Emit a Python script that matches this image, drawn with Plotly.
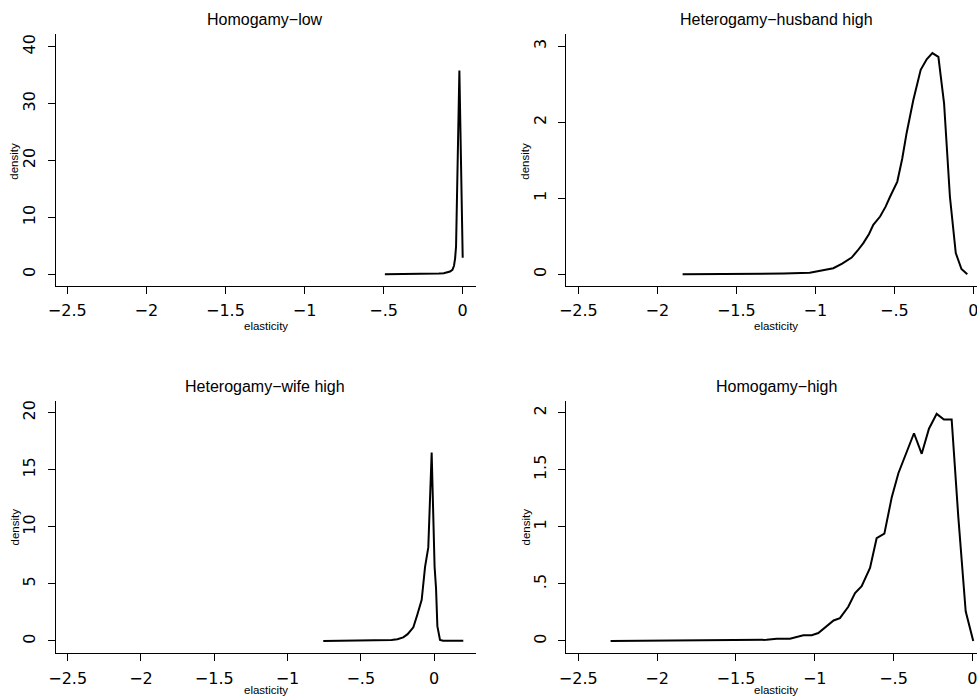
import plotly.graph_objects as go

# ---- data ----
titles = ["Homogamy\u2212low", "Heterogamy\u2212husband high",
          "Heterogamy\u2212wife high", "Homogamy\u2212high"]

x_hl = [-0.492, -0.40, -0.30, -0.20, -0.15, -0.12, -0.10, -0.08, -0.065, -0.055,
        -0.048, -0.042, -0.021, 0.0]
y_hl = [0.0, 0.01, 0.02, 0.06, 0.12, 0.2, 0.3, 0.5, 0.8, 1.5, 2.8, 4.9, 35.8, 2.9]

x_hh = [-1.84, -1.5, -1.2, -1.035, -0.95, -0.886, -0.83, -0.77, -0.733, -0.696, -0.66,
        -0.633, -0.59, -0.555, -0.527, -0.481, -0.45, -0.422, -0.38, -0.333, -0.295,
        -0.259, -0.221, -0.185, -0.148, -0.111, -0.075, -0.038]
y_hh = [0.0, 0.003, 0.01, 0.02, 0.05, 0.08, 0.14, 0.22, 0.31, 0.41, 0.53, 0.65, 0.76,
        0.89, 1.02, 1.22, 1.52, 1.86, 2.29, 2.69, 2.83, 2.91, 2.86, 2.25, 1.02, 0.28,
        0.07, 0.0]

x_wh = [-0.756, -0.5, -0.35, -0.29, -0.25, -0.21, -0.18, -0.141, -0.114, -0.084,
        -0.061, -0.039, -0.016, 0.004, 0.014, 0.023, 0.041, 0.062, 0.2]
y_wh = [0.0, 0.01, 0.04, 0.08, 0.15, 0.32, 0.6, 1.2, 2.3, 3.6, 6.5, 8.2, 16.5, 6.5,
        4.6, 1.3, 0.1, 0.02, 0.02]

x_ho = [-2.295, -2.0, -1.7, -1.5, -1.305, -1.241, -1.157, -1.072, -1.019, -0.977,
        -0.935, -0.88, -0.84, -0.787, -0.744, -0.702, -0.649, -0.607, -0.558, -0.511,
        -0.469, -0.416, -0.37, -0.321, -0.275, -0.226, -0.18, -0.131, -0.089, -0.042,
        0.006]
y_ho = [0.0, 0.002, 0.004, 0.006, 0.01, 0.02, 0.02, 0.05, 0.05, 0.07, 0.12, 0.18, 0.20,
        0.30, 0.42, 0.48, 0.64, 0.90, 0.94, 1.26, 1.47, 1.66, 1.82, 1.64, 1.86, 1.99,
        1.94, 1.94, 1.09, 0.26, 0.0]

x_tickvals = [-2.5, -2, -1.5, -1, -0.5, 0]
x_ticktext = ["\u22122.5", "\u22122", "\u22121.5", "\u22121", "\u2212.5", "0"]

y_tickvals = [[0, 10, 20, 30, 40], [0, 1, 2, 3], [0, 5, 10, 15, 20], [0, 0.5, 1, 1.5, 2]]
y_ticktext = [["0", "10", "20", "30", "40"], ["0", "1", "2", "3"],
              ["0", "5", "10", "15", "20"], ["0", ".5", "1", "1.5", "2"]]

xs = [x_hl, x_hh, x_wh, x_ho]
ys = [y_hl, y_hh, y_wh, y_ho]

# ---- layout geometry (page pixels; body margin removed below) ----
W, H = 977, 697


def px(x):
    return x / W


def py(y):
    return 1 - y / H


# plot-area edges in page pixels: (left, right, top, bottom)
boxes = [(55.7, 475.7, 34.3, 286.0), (566.0, 977.0, 34.3, 286.0),
         (55.7, 475.7, 401.0, 653.3), (566.0, 977.0, 401.0, 653.3)]
x_rng = [[-2.5733, 0.0822], [-2.578, 0.0234], [-2.582, 0.2846], [-2.578, 0.0298]]
y_rng = [[-2.056, 42.18], [-0.154, 3.158], [-1.078, 21.025], [-0.1078, 2.1025]]

fig = go.Figure()
tick_font = dict(family="DejaVu Sans", size=16, color="black")
layout = dict(width=W, height=H, margin=dict(l=0, r=0, t=0, b=0, pad=0),
              paper_bgcolor="white", plot_bgcolor="white", showlegend=False)

annotations = []
for i in range(4):
    sfx = "" if i == 0 else str(i + 1)
    l, r, t, b = boxes[i]
    fig.add_trace(go.Scatter(x=xs[i], y=ys[i], mode="lines",
                             line=dict(color="black", width=2),
                             xaxis="x" + sfx, yaxis="y" + sfx, hoverinfo="skip"))
    layout["xaxis" + sfx] = dict(domain=[px(l), min(px(r), 1.0)], range=x_rng[i],
                                 anchor="y" + sfx,
                                 showline=True, linecolor="black", linewidth=1,
                                 ticks="outside", ticklen=7, tickcolor="black",
                                 tickvals=x_tickvals, ticktext=x_ticktext,
                                 tickfont=tick_font, ticklabelstandoff=3,
                                 ticklabeloverflow="allow",
                                 showgrid=False, zeroline=False,
                                 automargin=False, fixedrange=True)
    layout["yaxis" + sfx] = dict(domain=[py(b), py(t)], range=y_rng[i], anchor="x" + sfx,
                                 showline=True, linecolor="black", linewidth=1,
                                 ticks="outside", ticklen=7, tickcolor="black",
                                 tickvals=y_tickvals[i], ticktext=y_ticktext[i],
                                 tickangle=-90, tickfont=tick_font, ticklabelstandoff=6,
                                 showgrid=False, zeroline=False,
                                 automargin=False, fixedrange=True)

title_pos = [(265, 20), (776, 20), (265, 386.7), (776, 386.7)]
xlab_pos = [(265.7, 326), (775.8, 326), (265.7, 690), (775.8, 690)]
ylab_pos = [(14, 161.7), (525, 161.7), (14, 527.5), (525, 527.5)]
for i in range(4):
    tx, ty = title_pos[i]
    annotations.append(dict(text=titles[i], x=px(tx), y=py(ty), xref="paper",
                            yref="paper", showarrow=False, xanchor="center",
                            yanchor="middle",
                            font=dict(family="Liberation Sans", size=16, color="black")))
    lx, ly = xlab_pos[i]
    annotations.append(dict(text="elasticity", x=px(lx), y=py(ly), xref="paper",
                            yref="paper", showarrow=False, xanchor="center",
                            yanchor="middle",
                            font=dict(family="Liberation Sans", size=11.5, color="black")))
    dx, dy = ylab_pos[i]
    annotations.append(dict(text="density", x=px(dx), y=py(dy), xref="paper",
                            yref="paper", showarrow=False, xanchor="center",
                            yanchor="middle", textangle=-90,
                            font=dict(family="Liberation Sans", size=11.5, color="black")))
layout["annotations"] = annotations
fig.update_layout(**layout)
fig.write_html("out.html", config={"displayModeBar": False},
               post_script="document.body.style.margin='0';"
                           "document.body.style.overflow='hidden';")
